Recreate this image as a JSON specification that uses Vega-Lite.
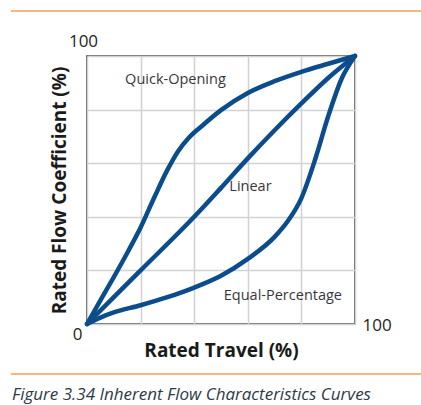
{
  "$schema": "https://vega.github.io/schema/vega-lite/v6.json",
  "width": 268,
  "height": 268,
  "autosize": "none",
  "padding": {"left": 87, "top": 56, "right": 66, "bottom": 81},
  "background": "white",
  "config": {
    "view": {"stroke": "#3a3a3a", "strokeWidth": 1.6},
    "font": "Open Sans"
  },
  "title": {
    "text": "Figure 3.34 Inherent Flow Characteristics Curves",
    "orient": "bottom",
    "anchor": "start",
    "frame": "group",
    "font": "Open Sans",
    "fontStyle": "italic",
    "fontWeight": "normal",
    "fontSize": 17,
    "color": "#2e3a48",
    "baseline": "alphabetic",
    "dx": -75,
    "offset": 25
  },
  "datasets": {
    "curves": [
      {"series": "Quick-Opening", "travel": 0, "flow": 0},
      {"series": "Quick-Opening", "travel": 5, "flow": 8.8},
      {"series": "Quick-Opening", "travel": 10, "flow": 17.5},
      {"series": "Quick-Opening", "travel": 15, "flow": 26.5},
      {"series": "Quick-Opening", "travel": 20, "flow": 36},
      {"series": "Quick-Opening", "travel": 25, "flow": 47},
      {"series": "Quick-Opening", "travel": 30, "flow": 57.5},
      {"series": "Quick-Opening", "travel": 34, "flow": 64.5},
      {"series": "Quick-Opening", "travel": 38, "flow": 69.5},
      {"series": "Quick-Opening", "travel": 43, "flow": 74},
      {"series": "Quick-Opening", "travel": 50, "flow": 79.8},
      {"series": "Quick-Opening", "travel": 60, "flow": 86.2},
      {"series": "Quick-Opening", "travel": 70, "flow": 90.6},
      {"series": "Quick-Opening", "travel": 80, "flow": 94.1},
      {"series": "Quick-Opening", "travel": 90, "flow": 97.1},
      {"series": "Quick-Opening", "travel": 100, "flow": 100},
      {"series": "Linear", "travel": 0, "flow": 0},
      {"series": "Linear", "travel": 20, "flow": 20},
      {"series": "Linear", "travel": 40, "flow": 40},
      {"series": "Linear", "travel": 50, "flow": 50.8},
      {"series": "Linear", "travel": 60, "flow": 61.8},
      {"series": "Linear", "travel": 70, "flow": 72.3},
      {"series": "Linear", "travel": 80, "flow": 82.3},
      {"series": "Linear", "travel": 90, "flow": 91.8},
      {"series": "Linear", "travel": 100, "flow": 100},
      {"series": "Equal-Percentage", "travel": 0, "flow": 0},
      {"series": "Equal-Percentage", "travel": 5, "flow": 2.4},
      {"series": "Equal-Percentage", "travel": 10, "flow": 4.3},
      {"series": "Equal-Percentage", "travel": 20, "flow": 7},
      {"series": "Equal-Percentage", "travel": 30, "flow": 10},
      {"series": "Equal-Percentage", "travel": 40, "flow": 13.6},
      {"series": "Equal-Percentage", "travel": 50, "flow": 18},
      {"series": "Equal-Percentage", "travel": 60, "flow": 24.3},
      {"series": "Equal-Percentage", "travel": 70, "flow": 32.5},
      {"series": "Equal-Percentage", "travel": 75, "flow": 38.5},
      {"series": "Equal-Percentage", "travel": 80, "flow": 47},
      {"series": "Equal-Percentage", "travel": 85, "flow": 61},
      {"series": "Equal-Percentage", "travel": 90, "flow": 77.5},
      {"series": "Equal-Percentage", "travel": 95, "flow": 91.5},
      {"series": "Equal-Percentage", "travel": 100, "flow": 100}
    ],
    "labels": [
      {"label": "Quick-Opening", "travel": 33.0, "flow": 90.9},
      {"label": "Linear", "travel": 61.0, "flow": 51.1},
      {"label": "Equal-Percentage", "travel": 73.1, "flow": 10.4}
    ]
  },
  "encoding": {
    "x": {
      "type": "quantitative",
      "scale": {"domain": [0, 100], "nice": false, "zero": false},
      "axis": {
        "title": "Rated Travel (%)",
        "values": [0, 20, 40, 60, 80, 100],
        "labelExpr": "datum.value == 100 ? '100' : ''",
        "ticks": false,
        "domain": false,
        "grid": true,
        "gridColor": "#d2d2d2",
        "gridWidth": 1.5,
        "labelFont": "Open Sans",
        "labelFontSize": 17,
        "labelColor": "#1e1e1e",
        "labelAlign": "left",
        "labelBaseline": "middle",
        "labelOffset": 7,
        "labelPadding": 1,
        "labelFlush": false,
        "labelOverlap": false,
        "titleFont": "Open Sans",
        "titleFontWeight": "bold",
        "titleFontSize": 19,
        "titleColor": "#1a1a1a",
        "titleX": 134,
        "titleY": 32,
        "titleAlign": "center",
        "titleBaseline": "alphabetic"
      }
    },
    "y": {
      "type": "quantitative",
      "scale": {"domain": [0, 100], "nice": false, "zero": false},
      "axis": {
        "title": "Rated Flow Coefficient (%)",
        "values": [0, 20, 40, 60, 80, 100],
        "labelExpr": "datum.value == 0 || datum.value == 100 ? datum.label : ''",
        "ticks": false,
        "domain": false,
        "grid": true,
        "gridColor": "#d2d2d2",
        "gridWidth": 1.5,
        "labelFont": "Open Sans",
        "labelFontSize": 17,
        "labelColor": "#1e1e1e",
        "labelAlign": {"condition": {"test": "datum.value == 100", "value": "center"}, "value": "right"},
        "labelBaseline": "middle",
        "labelOffset": {"condition": {"test": "datum.value == 100", "value": -15}, "value": 10},
        "labelPadding": {"condition": {"test": "datum.value == 100", "value": 4}, "value": 5},
        "labelFlush": false,
        "labelOverlap": false,
        "titleFont": "Open Sans",
        "titleFontWeight": "bold",
        "titleFontSize": 19,
        "titleColor": "#1a1a1a",
        "titleAngle": -90,
        "titleX": -22,
        "titleY": 134,
        "titleAlign": "center",
        "titleBaseline": "alphabetic"
      }
    }
  },
  "layer": [
    {
      "data": {"values": [{}]},
      "mark": {"type": "rule", "color": "#f5a04c", "strokeWidth": 1.5},
      "encoding": {
        "x": {"datum": -28.4, "type": "quantitative"},
        "x2": {"datum": 125},
        "y": {"datum": 116.8, "type": "quantitative"}
      }
    },
    {
      "data": {"values": [{}]},
      "mark": {"type": "rule", "color": "#f5a04c", "strokeWidth": 1.5},
      "encoding": {
        "x": {"datum": -28.4, "type": "quantitative"},
        "x2": {"datum": 125},
        "y": {"datum": -18.7, "type": "quantitative"}
      }
    },
    {
      "data": {"name": "curves"},
      "mark": {"type": "line", "color": "#0b4d8c", "strokeWidth": 4.5, "interpolate": "monotone", "strokeCap": "round", "strokeJoin": "round"},
      "encoding": {
        "x": {"field": "travel", "type": "quantitative"},
        "y": {"field": "flow", "type": "quantitative"},
        "detail": {"field": "series"}
      }
    },
    {
      "data": {"name": "labels"},
      "mark": {"type": "text", "font": "Open Sans", "fontSize": 14.5, "color": "#3a3640", "align": "center", "baseline": "middle"},
      "encoding": {
        "x": {"field": "travel", "type": "quantitative"},
        "y": {"field": "flow", "type": "quantitative"},
        "text": {"field": "label"}
      }
    }
  ]
}
